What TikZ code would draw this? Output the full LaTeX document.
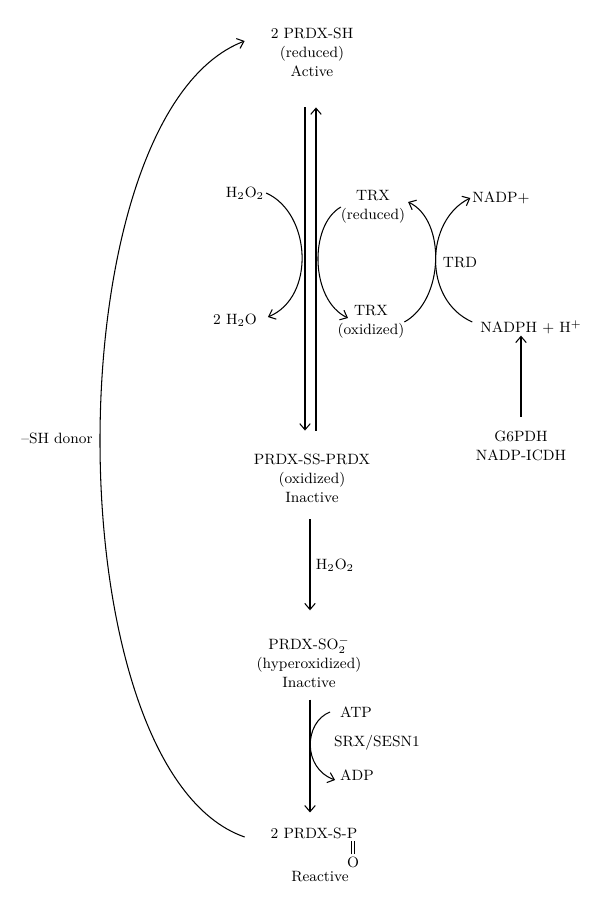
\documentclass[tikz,border=0pt]{standalone}
\usepackage{amsmath}
\usetikzlibrary{calc,arrows.meta}

\begin{document}
\begin{tikzpicture}[x=0.02cm,y=-0.02cm,every node/.style={align=center,inner sep=1pt,font=\fontsize{8.5}{10.8}\selectfont}]
\useasboundingbox (0,0) rectangle (600,907);

		\node (red) at (312,52){2 PRDX-SH\\(reduced)\\Active};
		\node (ox) at (312,478){PRDX-SS-PRDX\\(oxidized)\\Inactive};
		\node (hyp) at (309,662){PRDX-SO$_2^-$\\(hyperoxidized)\\Inactive};
\node (sp) at (314,833){2 PRDX-S-P};
\node (o) at (353,862){O};
\node (rea) at (320,877){Reactive};
\node (h2o2) at (245,193){H$_2$O$_2$};
\node (h2o) at (235,320){2 H$_2$O};
\node (trxr) at (373,207){TRX\\(reduced)};
\node (trxo) at (371,322){TRX\\(oxidized)};
\node (nadpp) at (501,198){NADP+};
\node (trd) at (460,263){TRD};
\node (nadph) at (531,327){NADPH + H$^+$};
\node (g6) at (521,446){G6PDH\\NADP-ICDH};
\node (hpox) at (335,565){H$_2$O$_2$};
\node (atp) at (356,712){ATP};
\node (srx) at (377,743){SRX/SESN1};
\node (adp) at (357,775){ADP};
\node (donor) at (57,438){--SH donor};
\begin{scope}[line width=0.6pt,-{Straight Barb[length=3.5pt,width=6pt]}]
%vertical arrows
\draw ($(red.south)+(-7,29)$) -- ($(ox.north)+(-7,-21)$);
\draw ($(ox.north)+(4,-21)$) -- ($(red.south)+(4,29)$);
\draw ($(ox.south)+(-2,15)$) -- ($(hyp.north)+(1,-24)$);
\draw ($(hyp.south)+(1,10)$) -- ($(hyp.south |- sp.north)+(1,-13)$);
\draw ($(g6.north)+(0,-12)$) -- (g6.north |- nadph.south);
%curved arrows
\draw (h2o2.east) .. controls +(45,20) and +(48,-20) .. ($(h2o.east)+(9,-3)$);
\draw ($(trxr.west)+(2,0)$) .. controls +(-32,18) and +(-38,-18) .. ($(trxo)+(-23,-4)$);
\draw ($(trxo.east)+(-2,0)$) .. controls +(40,-22) and +(38,18) .. ($(trxr.east)+(1,-5)$);
\draw ($(nadph.west)+(-6,-5)$) .. controls +(-50,-22) and +(-45,22) .. (nadpp.west);
\draw ($(atp.west)+(-8,0)$) .. controls +(-26,10) and +(-33,-12) .. ($(adp.west)+(-3,5)$);
%SH donor
\draw ($(sp.west)+(-24,4)$) .. controls (52,770) and (52,115) .. ($(red.west)+(-24,-11)$);
\end{scope}
\draw[double,double distance=1pt,line width=0.5pt] (o.north) -- (o.north |- sp.south);
\end{tikzpicture}
\end{document}
